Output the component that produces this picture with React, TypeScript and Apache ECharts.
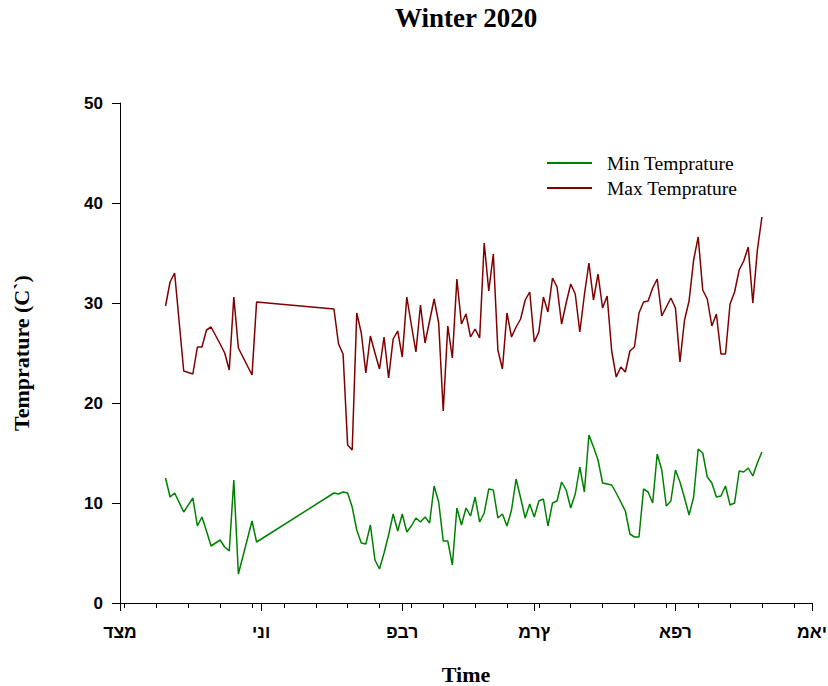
import React, { useEffect, useRef } from "react";
import * as echarts from "echarts";

// Days counted from 1 December 2019 (day 0)
const dayOffsets = [
  10, 11, 12, 14, 16, 17, 18, 19, 20, 22, 23, 24, 25, 26, 29, 30,
  47, 48, 49, 50, 51, 52, 53, 54, 55, 56, 57, 58, 59, 60, 61, 62, 63, 64, 65,
  66, 67, 68, 69, 70, 71, 72, 73, 74, 75, 76, 77, 78, 79, 80, 81, 82, 83, 84,
  85, 86, 87, 88, 89, 90, 91, 92, 93, 94, 95, 96, 97, 98, 99, 100, 101, 102,
  103, 104, 105, 106, 107, 108, 109, 110, 111, 112, 113, 114, 115, 116, 117,
  118, 119, 120, 121, 122, 123, 124, 125, 126, 127, 128, 129, 130, 131, 132,
  133, 134, 135, 136, 137, 138, 139, 140, 141,
];

const minTemps = [
  12.5, 10.6, 11.0, 9.1, 10.5, 7.7, 8.6, 7.2, 5.7, 6.3, 5.6, 5.2, 12.3, 2.9, 8.2, 6.1,
  11.0, 10.9, 11.1, 11.0, 9.6, 7.3, 6.0, 5.9, 7.8, 4.3, 3.4, 5.0, 6.8, 8.9, 7.2, 8.9, 7.1, 7.7, 8.5,
  8.1, 8.6, 8.0, 11.7, 10.1, 6.2, 6.2, 3.8, 9.5, 7.8, 9.5, 8.7, 10.6, 8.1, 9.0, 11.4, 11.3, 8.5, 8.9,
  7.7, 9.3, 12.4, 10.5, 8.5, 9.9, 8.6, 10.2, 10.4, 7.7, 10.0, 10.2, 12.1, 11.3, 9.5, 10.9, 13.6, 11.1,
  16.8, 15.6, 14.3, 12.0, 11.9, 11.8, 11.0, 10.1, 9.2, 6.9, 6.6, 6.6, 11.4, 11.1, 10.0,
  14.9, 13.3, 9.7, 10.2, 13.3, 12.1, 10.5, 8.8, 10.6, 15.4, 15.0, 12.6, 12.0, 10.6, 10.7,
  11.7, 9.8, 10.0, 13.2, 13.1, 13.5, 12.7, 14.0, 15.1,
];

const maxTemps = [
  29.7, 32.1, 33.0, 23.2, 22.9, 25.6, 25.6, 27.3, 27.6, 25.9, 25.0, 23.3, 30.6, 25.5, 22.8, 30.1,
  29.4, 25.9, 24.9, 15.8, 15.3, 29.0, 27.0, 23.0, 26.7, 25.0, 23.4, 26.6, 22.5, 26.4, 27.2, 24.6, 30.6, 27.8, 25.1,
  29.8, 26.0, 28.2, 30.4, 28.0, 19.2, 27.7, 24.5, 32.4, 27.9, 28.9, 26.6, 27.4, 26.5, 36.0, 31.2, 34.9, 25.3, 23.4,
  29.0, 26.6, 27.6, 28.4, 30.3, 31.1, 26.1, 27.1, 30.6, 29.1, 32.5, 31.6, 27.9, 30.0, 31.9, 30.9, 27.1, 30.8,
  34.0, 30.3, 32.9, 29.5, 30.7, 25.2, 22.6, 23.6, 23.1, 25.2, 25.6, 29.0, 30.1, 30.2, 31.5,
  32.4, 28.7, 29.6, 30.5, 29.5, 24.1, 28.3, 30.2, 34.3, 36.6, 31.3, 30.4, 27.7, 28.9, 24.9,
  24.9, 29.9, 31.1, 33.3, 34.2, 35.6, 30.0, 35.3, 38.6,
];

// Month starts (days from 1 Dec 2019) and their labels
const monthStarts = [0, 31, 62, 91, 122, 152];
const monthLabels = ["דצמ", "ינו", "פבר", "מרץ", "אפר", "מאי"];

// Weekly minor ticks
const weekTicks = [1, 8, 15, 22, 29, 36, 43, 50, 57, 64, 71, 78, 85, 92, 99, 106, 113, 120, 127, 134, 141, 148];

const yTicks = { min: 0, max: 50, interval: 10 };

const serif = "'Liberation Serif', 'Times New Roman', Times, serif";
const sans = "'Liberation Sans', Arial, Helvetica, sans-serif";

// Hebrew month names: glyphs placed in right-to-left visual order
const visualRtl = (s: string) => Array.from(s).reverse().join("");

export default function App() {
  const ref = useRef<HTMLDivElement>(null);

  useEffect(() => {
    if (!ref.current) return;
    const chart = echarts.init(ref.current, null, { renderer: "svg" });

    const minData = dayOffsets.map((d, i) => [d, minTemps[i]]);
    const maxData = dayOffsets.map((d, i) => [d, maxTemps[i]]);

    chart.setOption({
      animation: false,
      backgroundColor: "#ffffff",
      title: {
        text: "Winter 2020",
        left: 395,
        top: 4,
        padding: 0,
        textStyle: { fontFamily: serif, fontWeight: "bold", fontSize: 27, color: "#000" },
      },
      legend: {
        orient: "vertical",
        left: 547,
        top: 153,
        padding: 0,
        itemGap: 5,
        itemWidth: 45,
        itemHeight: 2,
        icon: "rect",
        textStyle: {
          fontFamily: serif,
          fontSize: 19.5,
          color: "#000",
          padding: [0, 0, 0, 10],
        },
        data: ["Min Temprature", "Max Temprature"],
      },
      grid: { left: 120, right: 16, top: 103, bottom: 83, containLabel: false, outerBoundsMode: "none" },
      xAxis: [
        {
          type: "value",
          min: 0,
          max: 152,
          position: "bottom",
          name: "Time",
          nameLocation: "middle",
          nameGap: 60,
          nameTextStyle: { fontFamily: serif, fontWeight: "bold", fontSize: 22, color: "#000" },
          axisLine: { show: true, lineStyle: { color: "#000", width: 1 } },
          axisTick: { show: true, customValues: monthStarts, length: 8, lineStyle: { color: "#000" } },
          axisLabel: {
            customValues: monthStarts,
            formatter: (v: number) => visualRtl(monthLabels[monthStarts.indexOf(v)] ?? ""),
            fontFamily: sans,
            fontWeight: "bold",
            fontSize: 17.5,
            color: "#000",
            margin: 20,
          },
          splitLine: { show: false },
        },
        {
          type: "value",
          min: 0,
          max: 152,
          position: "bottom",
          axisLine: { show: false },
          axisTick: { show: true, customValues: weekTicks, length: 5, lineStyle: { color: "#000" } },
          axisLabel: { show: false },
          splitLine: { show: false },
        },
      ],
      yAxis: {
        type: "value",
        min: yTicks.min,
        max: yTicks.max,
        interval: yTicks.interval,
        name: "Temprature (C`)",
        nameLocation: "middle",
        nameRotate: 90,
        nameGap: 88,
        nameTextStyle: { fontFamily: serif, fontWeight: "bold", fontSize: 22, color: "#000" },
        axisLine: { show: true, lineStyle: { color: "#000", width: 1 } },
        axisTick: { show: true, length: 8, lineStyle: { color: "#000" } },
        axisLabel: { fontFamily: sans, fontWeight: "bold", fontSize: 17, color: "#000", margin: 17 },
        splitLine: { show: false },
      },
      series: [
        {
          name: "Min Temprature",
          type: "line",
          xAxisIndex: 0,
          data: minData,
          symbol: "none",
          color: "#008000",
          lineStyle: { color: "#008000", width: 1.5 },
        },
        {
          name: "Max Temprature",
          type: "line",
          xAxisIndex: 0,
          data: maxData,
          symbol: "none",
          color: "#800000",
          lineStyle: { color: "#800000", width: 1.5 },
        },
      ],
    });

    return () => chart.dispose();
  }, []);

  return (
    <div
      ref={ref}
      style={{ position: "fixed", left: 0, top: 0, width: 828, height: 686, background: "#fff" }}
    />
  );
}
